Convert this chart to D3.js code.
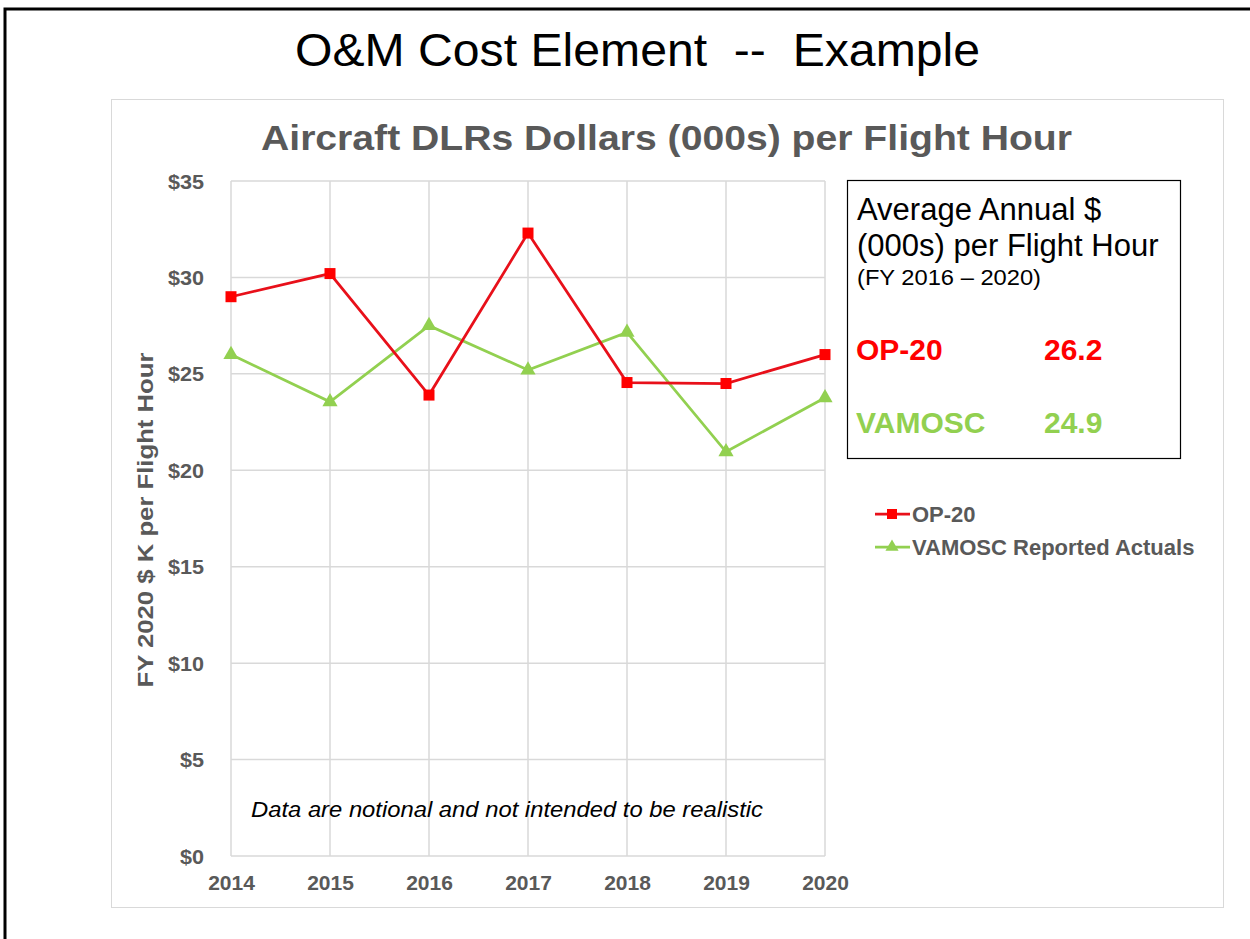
<!DOCTYPE html>
<html><head><meta charset="utf-8">
<script src="https://cdn.jsdelivr.net/npm/d3@7"></script>
<style>body{margin:0;background:#fff}svg{display:block}</style>
</head><body>
<svg id="c" width="1250" height="939"></svg>
<script>
const years = [2014, 2015, 2016, 2017, 2018, 2019, 2020];
const op20 = [29.0, 30.2, 23.9, 32.3, 24.55, 24.5, 26.0];
const vamosc = [26.0, 23.55, 27.5, 25.2, 27.15, 20.96, 23.76];
const yTicks = [0, 5, 10, 15, 20, 25, 30, 35];
const seriesNames = ["OP-20", "VAMOSC Reported Actuals"];
const avgLabels = ["OP-20", "VAMOSC"];
const avgValues = ["26.2", "24.9"];

const svg = d3.select("#c");
const gray = "#595959";
const red = "#ff0000", lineRed = "#e8101a", green = "#92d050";
const bf = "'Liberation Sans',Arial,sans-serif";
function fit(sel, w) { sel.attr("textLength", w).attr("lengthAdjust", "spacingAndGlyphs"); return sel; }

// outer frame
svg.append("rect").attr("x", 5).attr("y", 9).attr("width", 1260).attr("height", 960)
  .attr("fill", "none").attr("stroke", "#000").attr("stroke-width", 3);
// chart area border
svg.append("rect").attr("x", 111.5).attr("y", 99.5).attr("width", 1112).attr("height", 808)
  .attr("fill", "#fff").attr("stroke", "#d9d9d9").attr("stroke-width", 1);

fit(svg.append("text").attr("x", 637.5).attr("y", 66).attr("text-anchor", "middle")
  .style("white-space", "pre").attr("font-family", bf)
  .attr("font-size", 46).attr("fill", "#000").text("O&M Cost Element  --  Example"), 685);

fit(svg.append("text").attr("x", 666.5).attr("y", 150).attr("text-anchor", "middle")
  .attr("font-family", bf).attr("font-weight", "bold")
  .attr("font-size", 35).attr("fill", gray).text("Aircraft DLRs Dollars (000s) per Flight Hour"), 811);

const x = d3.scaleLinear().domain([2014, 2020]).range([231, 825]);
const y = d3.scaleLinear().domain([0, 35]).range([856, 181]);

const grid = svg.append("g");
grid.selectAll("line.h").data(yTicks).join("line")
  .attr("x1", 231).attr("x2", 825).attr("y1", d => y(d)).attr("y2", d => y(d))
  .attr("stroke", "#d9d9d9").attr("stroke-width", 1.5);
grid.selectAll("line.v").data(years).join("line")
  .attr("y1", y(0)).attr("y2", y(35)).attr("x1", d => x(d)).attr("x2", d => x(d))
  .attr("stroke", "#d9d9d9").attr("stroke-width", 1.5);

const yAxis = svg.append("g").attr("transform", "translate(231,0)")
  .call(d3.axisLeft(y).tickValues(yTicks).tickSize(0).tickPadding(27).tickFormat(d => "$" + d));
const xAxis = svg.append("g").attr("transform", `translate(0,${y(0)})`)
  .call(d3.axisBottom(x).tickValues(years).tickSize(0).tickPadding(19).tickFormat(d3.format("d")));
yAxis.select(".domain").remove();
xAxis.select(".domain").remove();
yAxis.selectAll("text").attr("font-family", bf).attr("font-weight", "bold").attr("font-size", 20)
  .attr("fill", gray).attr("dy", "0.35em")
  .each(function () { const t = d3.select(this); const l = this.getComputedTextLength(); fit(t, l * 1.08); });
xAxis.selectAll("text").attr("font-family", bf).attr("font-weight", "bold").attr("font-size", 21).attr("fill", gray);

fit(svg.append("text").attr("transform", "translate(153,520) rotate(-90)").attr("text-anchor", "middle")
  .attr("font-family", bf).attr("font-weight", "bold")
  .attr("font-size", 22).attr("fill", gray).text("FY 2020 $ K per Flight Hour"), 335);

const line = d3.line().x((d, i) => x(years[i])).y(d => y(d));
svg.append("path").datum(vamosc).attr("d", line).attr("fill", "none").attr("stroke", green).attr("stroke-width", 2.75);
svg.append("path").datum(op20).attr("d", line).attr("fill", "none").attr("stroke", lineRed).attr("stroke-width", 2.75);

const tri = d3.symbol().type(d3.symbolTriangle).size(100);
svg.selectAll("path.tri").data(vamosc).join("path")
  .attr("transform", (d, i) => `translate(${x(years[i])},${y(d)})`).attr("d", tri).attr("fill", green);
svg.selectAll("rect.sq").data(op20).join("rect")
  .attr("x", (d, i) => x(years[i]) - 5.5).attr("y", d => y(d) - 5.5).attr("width", 11).attr("height", 11).attr("fill", red);

fit(svg.append("text").attr("x", 251).attr("y", 817)
  .attr("font-family", bf).attr("font-style", "italic")
  .attr("font-size", 22).attr("fill", "#000").text("Data are notional and not intended to be realistic"), 512);

// annotation box
svg.append("rect").attr("x", 847.5).attr("y", 180.5).attr("width", 333).attr("height", 278)
  .attr("fill", "#fff").attr("stroke", "#000").attr("stroke-width", 1.2);
svg.append("text").attr("x", 857).attr("y", 220).attr("font-family", bf).attr("font-size", 31).attr("fill", "#000").text("Average Annual $");
svg.append("text").attr("x", 857).attr("y", 256).attr("font-family", bf).attr("font-size", 31).attr("fill", "#000").text("(000s) per Flight Hour");
fit(svg.append("text").attr("x", 857).attr("y", 285).attr("font-family", bf).attr("font-size", 22).attr("fill", "#000").text("(FY 2016 – 2020)"), 184);
const avgColors = [red, green];
const avgY = [360, 433];
svg.selectAll("text.al").data(avgLabels).join("text").attr("x", 856).attr("y", (d, i) => avgY[i])
  .attr("font-family", bf).attr("font-weight", "bold").attr("font-size", 30).attr("fill", (d, i) => avgColors[i]).text(d => d);
svg.selectAll("text.av").data(avgValues).join("text").attr("x", 1044).attr("y", (d, i) => avgY[i])
  .attr("font-family", bf).attr("font-weight", "bold").attr("font-size", 30).attr("fill", (d, i) => avgColors[i]).text(d => d);

// legend
const legY = [514, 547];
const lg = svg.append("g");
seriesNames.forEach((n, i) => {
  lg.append("line").attr("x1", 875).attr("x2", 910).attr("y1", legY[i]).attr("y2", legY[i])
    .attr("stroke", i === 0 ? lineRed : green).attr("stroke-width", 2.75);
  if (i === 0) lg.append("rect").attr("x", 887).attr("y", legY[i] - 5).attr("width", 10).attr("height", 10).attr("fill", red);
  else lg.append("path").attr("transform", `translate(892,${legY[i]})`).attr("d", d3.symbol().type(d3.symbolTriangle).size(75)).attr("fill", green);
  lg.append("text").attr("x", 912).attr("y", legY[i] + 8).attr("font-family", bf).attr("font-weight", "bold")
    .attr("font-size", 22).attr("fill", gray).text(n);
});
</script>
</body></html>
